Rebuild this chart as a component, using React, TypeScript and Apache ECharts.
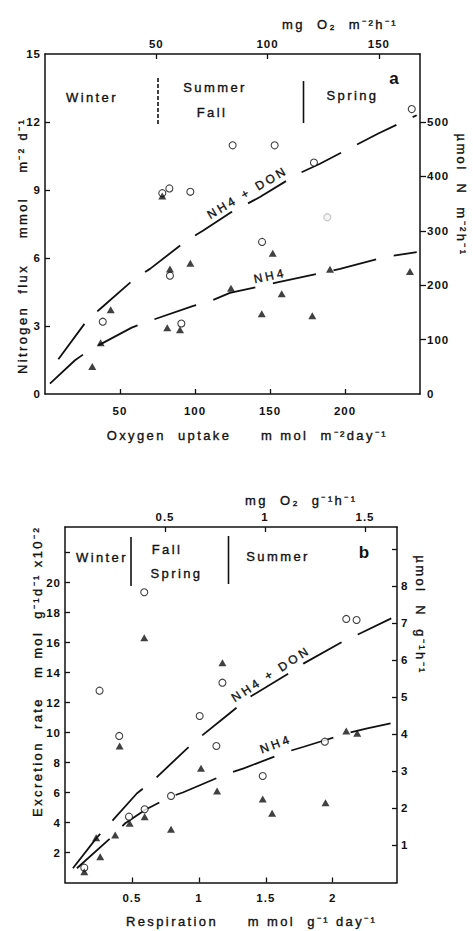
import React, { useEffect, useRef } from 'react';
import * as echarts from 'echarts';

// ---------- Panel a : Nitrogen flux vs oxygen uptake ----------
// open circles : NH4 + DON
const aTotalObs: [number, number][] = [
  [38.5, 3.19], [78.2, 8.86], [82.9, 9.07], [96.9, 8.92], [83.3, 5.22], [90.9, 3.11],
  [125.1, 10.97], [153.1, 10.97], [179.3, 10.21], [144.7, 6.71], [244.5, 12.57],
];
const aTotalObsFaded: [number, number][] = [[188.2, 7.8]];
// filled triangles : NH4
const aNH4Obs: [number, number][] = [
  [31.5, 1.21], [37.1, 2.26], [43.8, 3.72], [78.2, 8.73], [83.3, 5.52], [96.9, 5.77],
  [81.5, 2.92], [90, 2.83], [124, 4.66], [151.8, 6.21], [157.8, 4.42], [144.5, 3.54],
  [178.2, 3.45], [190, 5.5], [243.3, 5.4],
];
// fitted curves
const aTotalFit: [number, number][] = [
  [8.9, 1.53], [27.8, 3.23], [36.7, 3.75], [59.5, 5.07], [70, 5.52], [94.4, 6.77],
  [105.5, 7.21], [123.3, 7.99], [143.3, 8.69], [167.8, 9.68], [183.3, 10.16],
  [222.2, 11.49], [247.8, 12.3],
];
const aNH4Fit: [number, number][] = [
  [3.3, 0.46], [20, 1.49], [29.5, 1.93], [57.8, 2.93], [70, 3.23], [98.9, 3.89],
  [111, 4.12], [123.3, 4.46], [153.3, 4.9], [196.7, 5.52], [226.7, 6.04], [247.8, 6.26],
];
const aBottomTicks = [50, 100, 150, 200];
const aTopTicks = [50, 100, 150];
const aLeftLabels = [0, 3, 6, 9, 12, 15];
const aLeftTicks = [3, 6, 9, 12];
const aRightLabels = [0, 100, 200, 300, 400, 500];
const aRightTicks = [100, 200, 300, 400, 500];

// ---------- Panel b : Excretion rate vs respiration ----------
const bTotalObs: [number, number][] = [
  [0.144, 0.99], [0.258, 12.79], [0.405, 9.77], [0.478, 4.39], [0.592, 19.35], [0.595, 4.88],
  [0.792, 5.77], [1.006, 11.1], [1.131, 9.1], [1.176, 13.32], [1.477, 7.1], [1.941, 9.39],
  [2.101, 17.57], [2.178, 17.5],
];
const bNH4Obs: [number, number][] = [
  [0.144, 0.72], [0.233, 2.99], [0.263, 1.72], [0.375, 3.17], [0.483, 3.95], [0.595, 4.39],
  [0.592, 16.32], [0.408, 9.1], [0.792, 3.55], [1.016, 7.61], [1.136, 6.1], [1.176, 14.65],
  [1.477, 5.57], [1.547, 4.61], [1.946, 5.32], [2.101, 10.1], [2.183, 9.95],
];
const bTotalFit: [number, number][] = [
  [0.059, 0.95], [0.239, 3.01], [0.313, 3.72], [0.538, 5.95], [0.65, 6.72], [0.899, 8.83],
  [0.998, 9.61], [1.198, 11.05], [1.385, 12.39], [1.672, 13.95], [1.784, 14.61],
  [2.096, 16.17], [2.215, 16.65], [2.437, 17.61],
];
const bNH4Fit: [number, number][] = [
  [0.089, 0.95], [0.338, 2.95], [0.45, 3.95], [0.6, 4.85], [0.79, 5.72], [0.88, 6.0],
  [1.21, 7.25], [1.335, 7.61], [1.66, 8.72], [1.784, 9.05], [1.946, 9.5], [2.108, 9.95],
  [2.258, 10.28], [2.432, 10.61],
];
const bBottomTicks = [0.5, 1, 1.5, 2];
const bTopTicks = [0.5, 1, 1.5];
const bLeftLabels = [2, 4, 6, 8, 10, 12, 14, 16, 18, 20];
const bLeftTicks = [2, 4, 6, 8, 10, 12, 14, 16, 18, 20, 22];
const bRightLabels = [1, 2, 3, 4, 5, 6, 7, 8];
const bRightTicks = [1, 2, 3, 4, 5, 6, 7, 8, 9];

const INK = '#111111';
const FONT = 'Liberation Sans';

function axis(
  gridIndex: number, position: string, min: number, max: number,
  ticks: number[], labels: number[], inside: boolean, margin: number, tickLen = 5
) {
  return {
    type: 'value', gridIndex, position, min, max,
    axisLine: { show: true, onZero: false, lineStyle: { color: INK, width: 1.5 } },
    axisTick: { show: true, inside, length: tickLen, customValues: ticks, lineStyle: { color: INK, width: 1.3 } },
    axisLabel: {
      show: true, customValues: labels, margin, color: INK,
      fontSize: 11.5, fontWeight: 'bold', fontFamily: FONT,
    },
    splitLine: { show: false },
  };
}

function txt(text: string, x: number, y: number, size = 13, rotDeg = 0, weight = 'normal', align = 'center') {
  return {
    type: 'text', x, y, rotation: (rotDeg * Math.PI) / 180, silent: true, z: 50,
    style: {
      text, fill: INK, fontSize: size, fontFamily: FONT, fontWeight: weight,
      align, verticalAlign: 'middle',
      stroke: weight === 'bold' ? undefined : INK, lineWidth: weight === 'bold' ? 0 : 0.35,
    },
  };
}
function vline(x: number, y1: number, y2: number, dash?: number[]) {
  return {
    type: 'line', silent: true, z: 50,
    shape: { x1: x, y1, x2: x, y2 },
    style: { stroke: INK, lineWidth: 1.6, lineDash: dash },
  };
}

const dashed = { color: INK, width: 1.8, type: [44, 18] as number[] };
const circleStyle = { color: '#ffffff', borderColor: INK, borderWidth: 1.1 };
const triStyle = { color: INK };

const option = {
  animation: false,
  backgroundColor: '#ffffff',
  grid: [
    { left: 45, top: 54, width: 375, height: 340 },
    { left: 65, top: 527, width: 332, height: 355.5 },
  ],
  xAxis: [
    axis(0, 'bottom', 0, 250, aBottomTicks, aBottomTicks, true, 11),
    axis(0, 'top', 0, 168.5, aTopTicks, aTopTicks, true, 4),
    axis(1, 'bottom', 0, 2.48, bBottomTicks, bBottomTicks, true, 9),
    axis(1, 'top', 0, 1.66, bTopTicks, bTopTicks, true, 4),
  ],
  yAxis: [
    axis(0, 'left', 0, 15, aLeftTicks, aLeftLabels, true, 4),
    axis(0, 'right', 0, 625, aRightTicks, aRightLabels, false, 7, 6),
    axis(1, 'left', 0, 23.7, bLeftTicks, bLeftLabels, true, 4),
    axis(1, 'right', 0, 9.6, bRightTicks, bRightLabels, true, 4),
  ],
  series: [
    { type: 'line', xAxisIndex: 0, yAxisIndex: 0, data: aTotalFit, symbol: 'none', lineStyle: dashed, silent: true, z: 1 },
    { type: 'line', xAxisIndex: 0, yAxisIndex: 0, data: aNH4Fit, symbol: 'none', lineStyle: dashed, silent: true, z: 1 },
    { type: 'scatter', xAxisIndex: 0, yAxisIndex: 0, data: aTotalObs, symbol: 'circle', symbolSize: 7, itemStyle: circleStyle, z: 3 },
    { type: 'scatter', xAxisIndex: 0, yAxisIndex: 0, data: aTotalObsFaded, symbol: 'circle', symbolSize: 7, itemStyle: { color: '#f2f2f2', borderColor: '#b5b5b5', borderWidth: 1.1 }, z: 3 },
    { type: 'scatter', xAxisIndex: 0, yAxisIndex: 0, data: aNH4Obs, symbol: 'triangle', symbolSize: [8, 7], itemStyle: triStyle, z: 4 },

    { type: 'line', xAxisIndex: 2, yAxisIndex: 2, data: bTotalFit, symbol: 'none', lineStyle: dashed, silent: true, z: 1 },
    { type: 'line', xAxisIndex: 2, yAxisIndex: 2, data: bNH4Fit, symbol: 'none', lineStyle: dashed, silent: true, z: 1 },
    { type: 'scatter', xAxisIndex: 2, yAxisIndex: 2, data: bTotalObs, symbol: 'circle', symbolSize: 7, itemStyle: circleStyle, z: 3 },
    { type: 'scatter', xAxisIndex: 2, yAxisIndex: 2, data: bNH4Obs, symbol: 'triangle', symbolSize: [8, 7], itemStyle: triStyle, z: 4 },
  ],
  graphic: [
    // panel a
    txt('mg  O\u2082  m\u207B\u00B2h\u207B\u00B9', 282, 24, 13, 0, 'normal', 'left'),
    txt('Winter', 92, 97),
    txt('Summer', 215, 87.5),
    txt('Fall', 212, 112),
    txt('Spring', 352.5, 95),
    txt('a', 394, 78, 17, 0, 'bold'),
    vline(158, 78, 126, [4, 2]),
    vline(303.5, 81, 123),
    txt('Nitrogen  flux', 22, 319, 13, 90),
    txt('mmol    m\u207B\u00B2 d\u207B\u00B9', 22, 178, 13, 90),
    txt('\u00B5mol  N  m\u207B\u00B2h\u207B\u00B9', 461, 195, 13, -90),
    txt('Oxygen  uptake', 169, 435),
    txt('m mol  m\u207B\u00B2day\u207B\u00B9', 324.5, 435),
    txt('NH4 + DON', 247.5, 192.5, 12, 30.5),
    txt('NH4', 270, 276, 12, 12),
    // panel b
    txt('mg  O\u2082  g\u207B\u00B9h\u207B\u00B9', 245, 500, 13, 0, 'normal', 'left'),
    txt('Winter', 102, 557),
    txt('Fall', 167, 549),
    txt('Spring', 176.5, 573.5),
    txt('Summer', 278, 556),
    txt('b', 364, 552, 17, 0, 'bold'),
    vline(131, 537, 586),
    vline(228.5, 536, 584),
    txt('Excretion  rate', 37, 757, 13, 90),
    txt('m mol  g\u207B\u00B9d\u207B\u00B9 x10\u207B\u00B2', 37, 602, 13, 90),
    txt('\u00B5mol  N  g\u207B\u00B9h\u207B\u00B9', 420, 615, 13, -90),
    txt('Respiration', 172, 921.5),
    txt('m mol  g\u207B\u00B9 day\u207B\u00B9', 312.5, 921.5),
    txt('NH4 + DON', 271, 674, 12, 33),
    txt('NH4', 276, 744, 12, 20),
  ],
};

const css = `
#nchart text[style*="13px"] { letter-spacing: 2.4px; }
#nchart text[style*="12px"] { letter-spacing: 3px; }
#nchart text[style*="11.5px"] { letter-spacing: 1px; }
`;

export default function App() {
  const ref = useRef<HTMLDivElement>(null);
  useEffect(() => {
    if (!ref.current) return;
    const chart = echarts.init(ref.current, null, { renderer: 'svg' });
    chart.setOption(option as any);
    return () => chart.dispose();
  }, []);
  return (
    <>
      <style>{css}</style>
      <div
        id="nchart"
        ref={ref}
        style={{ position: 'absolute', left: 0, top: 0, width: 473, height: 931, background: '#fff' }}
      />
    </>
  );
}
